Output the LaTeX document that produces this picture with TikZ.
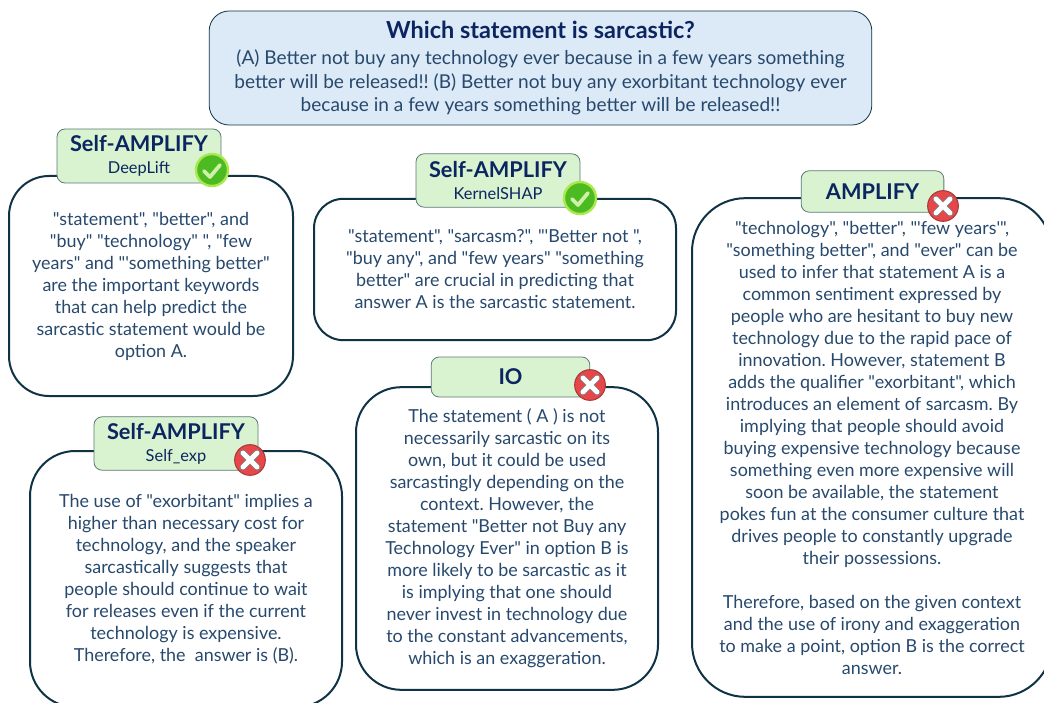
\documentclass[tikz,border=0pt]{standalone}
\usepackage{fontspec}
\newfontfamily\lato{Lato}
\definecolor{bodyblue}{HTML}{27496D}
\definecolor{navy}{HTML}{0B2560}
\definecolor{boxline}{HTML}{0F3344}
\definecolor{tagfill}{HTML}{D9F2D0}
\definecolor{tagline}{HTML}{5A7A78}
\definecolor{topfill}{HTML}{DCE9F6}
\definecolor{okgreen}{HTML}{4CBB22}
\definecolor{oklime}{HTML}{ABE84E}
\definecolor{oktick}{HTML}{CFF0A8}
\definecolor{nored}{HTML}{E8474A}
\definecolor{norim}{HTML}{A93A3A}
\newcommand{\tagtitle}{\fontsize{16.3}{18}\selectfont\bfseries}
\newcommand{\tagsub}{\fontsize{12.3}{16}\selectfont}
\frenchspacing
\begin{document}
\begin{tikzpicture}[x=0.75pt,y=-0.75pt,font=\lato,
  answer/.style={draw=boxline,line width=1.5pt,fill=white,align=center,text=bodyblue,inner sep=0pt,
    font=\lato\frenchspacing\fontsize{13.45}{16.5}\selectfont},
  method/.style={draw=tagline,line width=0.6pt,fill=tagfill,rounded corners=6pt,align=center,text=navy,inner sep=0pt},
  okbadge/.style={circle,draw=oklime,line width=1.8pt,fill=okgreen,minimum size=24pt,inner sep=0pt,
    path picture={\draw[oktick,line width=2.8pt,line cap=round,line join=round]
      (-8,1) -- (-2,7) -- (8,-5);}},
  nobadge/.style={circle,draw=norim,line width=0.8pt,fill=nored,minimum size=23pt,inner sep=0pt,
    path picture={\draw[gray,line width=5pt,line cap=round] (-7,-7) -- (7,7) (-7,7) -- (7,-7);
      \draw[white,line width=3.6pt,line cap=round] (-7,-7) -- (7,7) (-7,7) -- (7,-7);}}]
\clip (0,0) rectangle (1044,702);
\useasboundingbox (0,0) rectangle (1044,702);
% question
\node [draw=boxline,line width=0.6pt,fill=topfill,rounded corners=15pt,minimum width=497pt,minimum height=85.5pt,
  align=center,text=bodyblue,inner sep=0pt,font=\lato\frenchspacing\fontsize{14.3}{17.6}\selectfont] (question) at (540.5,68)
  {{\color{navy}\fontsize{17.6}{18}\selectfont\bfseries Which statement is sarcastic?}\\[2pt]
   (A) Better not buy any technology ever because in a few years something\\
   better will be released!! (B) Better not buy any exorbitant technology ever\\
   because in a few years something better will be released!!};
% answers
\node [answer,rounded corners=30pt,minimum width=213pt,minimum height=165pt] (deeplift) at (151,286)
  {"statement", "better", and\\
   "buy" "technology" ", "few\\
   years" and "'something better"\\
   are the important keywords\\
   that can help predict the\\
   sarcastic statement would be\\
   option A.};
\node [answer,rounded corners=22pt,minimum width=271.5pt,minimum height=106pt] (kernelshap) at (495,269.5)
  {"statement", "sarcasm?", "'Better not ",\\
   "buy any", and "few years" "something\\
   better" are crucial in predicting that\\
   answer A is the sarcastic statement.};
\node [answer,rounded corners=34pt,minimum width=234pt,minimum height=192pt] (selfexp) at (186,579)
  {The use of "exorbitant" implies a\\
   higher than necessary cost for\\
   technology, and the speaker\\
   sarcastically suggests that\\
   people should continue to wait\\
   for releases even if the current\\
   technology is expensive.\\
   Therefore, the\ \ answer is (B).};
\node [answer,rounded corners=34pt,minimum width=226.5pt,minimum height=227pt] (io) at (507,538.5)
  {The statement ( A ) is not\\
   necessarily sarcastic on its\\
   own, but it could be used\\
   sarcastingly depending on the\\
   context. However, the\\
   statement "Better not Buy any\\
   Technology Ever" in option B is\\
   more likely to be sarcastic as it\\
   is implying that one should\\
   never invest in technology due\\
   to the constant advancements,\\
   which is an exaggeration.};
\node [answer,rounded corners=40pt,minimum width=270pt,minimum height=374pt] (amplify) at (872,447.5)
  {"technology", "better", "'few years'",\\
   "something better", and "ever" can be\\
   used to infer that statement A is a\\
   common sentiment expressed by\\
   people who are hesitant to buy new\\
   technology due to the rapid pace of\\
   innovation. However, statement B\\
   adds the qualifier "exorbitant", which\\
   introduces an element of sarcasm. By\\
   implying that people should avoid\\
   buying expensive technology because\\
   something even more expensive will\\
   soon be available, the statement\\
   pokes fun at the consumer culture that\\
   drives people to constantly upgrade\\
   their possessions.\\
   \\
   Therefore, based on the given context\\
   and the use of irony and exaggeration\\
   to make a point, option B is the correct\\
   answer.};
% method tags
\node [method,minimum width=123pt,minimum height=40.5pt] (deeplifttag) at (139,156)
  {{\tagtitle Self-AMPLIFY}\\[4.5pt]{\tagsub DeepLift}};
\node [method,minimum width=123pt,minimum height=40pt] (kerneltag) at (498,180.5)
  {{\tagtitle Self-AMPLIFY}\\[4.5pt]{\tagsub KernelSHAP}};
\node [method,minimum width=123pt,minimum height=40pt] (selfexptag) at (176,443.5)
  {{\tagtitle Self-AMPLIFY}\\[4.5pt]{\tagsub Self\_exp}};
\node [method,minimum width=119pt,minimum height=30pt,font=\lato\tagtitle] (iotag) at (510.5,377) {IO};
\node [method,minimum width=107pt,minimum height=31pt,font=\lato\tagtitle] (amplifytag) at (872.5,191.5) {AMPLIFY};
% verdicts
\node [okbadge] (deepliftok) at (212,170) {};
\node [okbadge] (kernelok) at (580,198) {};
\node [nobadge] (selfexpno) at (250,460) {};
\node [nobadge] (iono) at (590,385) {};
\node [nobadge] (amplifyno) at (943,206) {};
\end{tikzpicture}
\end{document}
